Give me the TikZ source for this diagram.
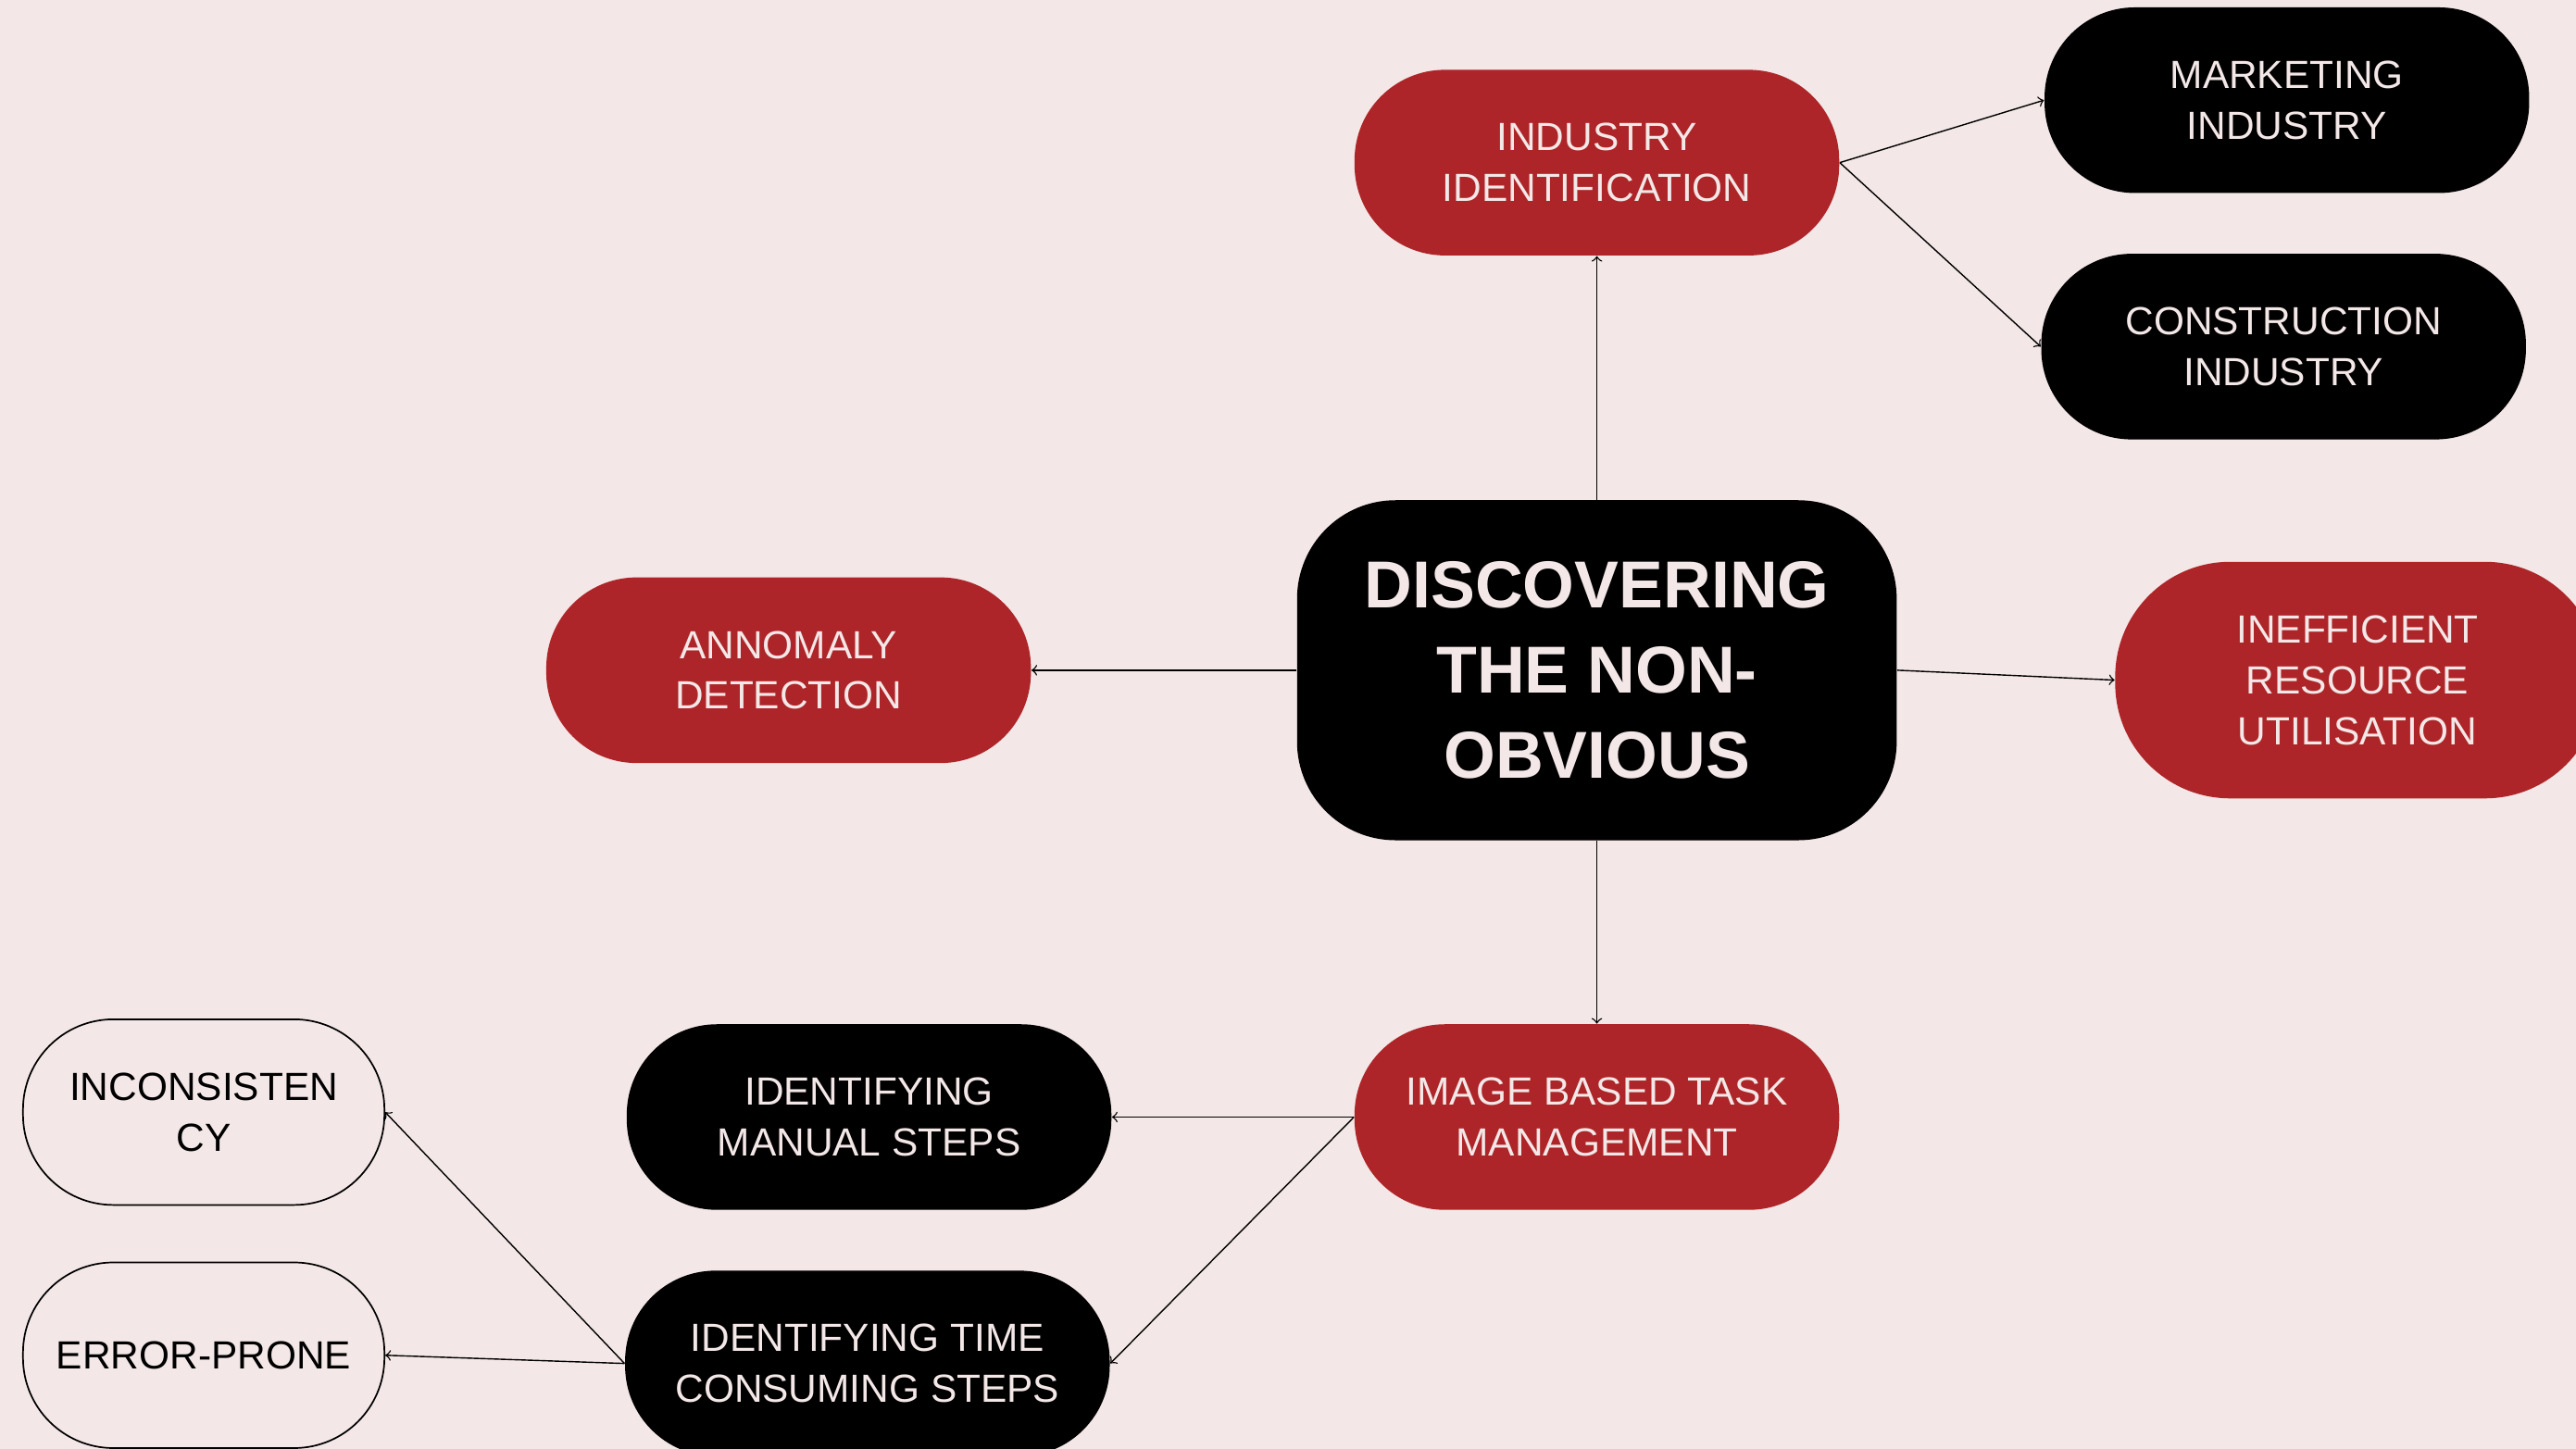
\documentclass[tikz,border=0pt]{standalone}
\usepackage{fontspec}
\setmainfont{Liberation Sans}
\usepackage{tikz}
\definecolor{bgpink}{HTML}{F3E7E7}
\definecolor{darkred}{HTML}{AD2528}
\tikzset{
  pill/.style={rectangle, rounded corners=11mm, minimum width=59mm, minimum height=22.6mm,
    inner sep=0pt, align=center, font=\fontsize{13.6}{17.6}\selectfont},
  redpill/.style={pill, fill=darkred, text=bgpink},
  blackpill/.style={pill, fill=black, text=bgpink},
  openpill/.style={pill, draw=black, line width=0.55pt, minimum width=44mm, text=black},
  link/.style={->, line width=0.45pt}
}
\begin{document}
\begin{tikzpicture}[x=0.2mm, y=-0.2mm]
\fill[bgpink] (0,0) rectangle (1568,882);
\useasboundingbox (0,0) rectangle (1568,882);
\clip (0,0) rectangle (1568,882);
\node [blackpill, rounded corners=12mm, minimum width=73mm, minimum height=41.4mm,
  font=\bfseries\fontsize{23}{29.6}\selectfont] (main) at (972,408) {DISCOVERING\\THE NON-\\OBVIOUS};
\node [redpill] (ind) at (972,99) {INDUSTRY\\IDENTIFICATION};
\node [blackpill] (mkt) at (1392,61) {MARKETING\\INDUSTRY};
\node [blackpill] (con) at (1390,211) {CONSTRUCTION\\INDUSTRY};
\node [redpill, minimum height=28.8mm, rounded corners=14mm] (ineff) at (1435,414) {INEFFICIENT\\RESOURCE\\UTILISATION};
\node [redpill] (anom) at (480,408) {ANNOMALY\\DETECTION};
\node [redpill] (img) at (972,680) {IMAGE BASED TASK\\MANAGEMENT};
\node [blackpill] (manual) at (529,680) {IDENTIFYING\\MANUAL STEPS};
\node [blackpill] (time) at (528,830) {IDENTIFYING TIME\\CONSUMING STEPS};
\node [openpill] (incons) at (124,677) {INCONSISTEN\\CY};
\node [openpill] (err) at (124,825) {ERROR-PRONE};
\draw [link] (main) -- (ind);
\draw [link] (ind.east) -- (mkt.west);
\draw [link] (ind.east) -- (con.west);
\draw [link] (main.east) -- (ineff.west);
\draw [link] (main.west) -- (anom.east);
\draw [link] (main) -- (img);
\draw [link] (img.west) -- (manual.east);
\draw [link] (img.west) -- (time.east);
\draw [link] (time.west) -- (incons.east);
\draw [link] (time.west) -- (err.east);
\end{tikzpicture}
\end{document}
